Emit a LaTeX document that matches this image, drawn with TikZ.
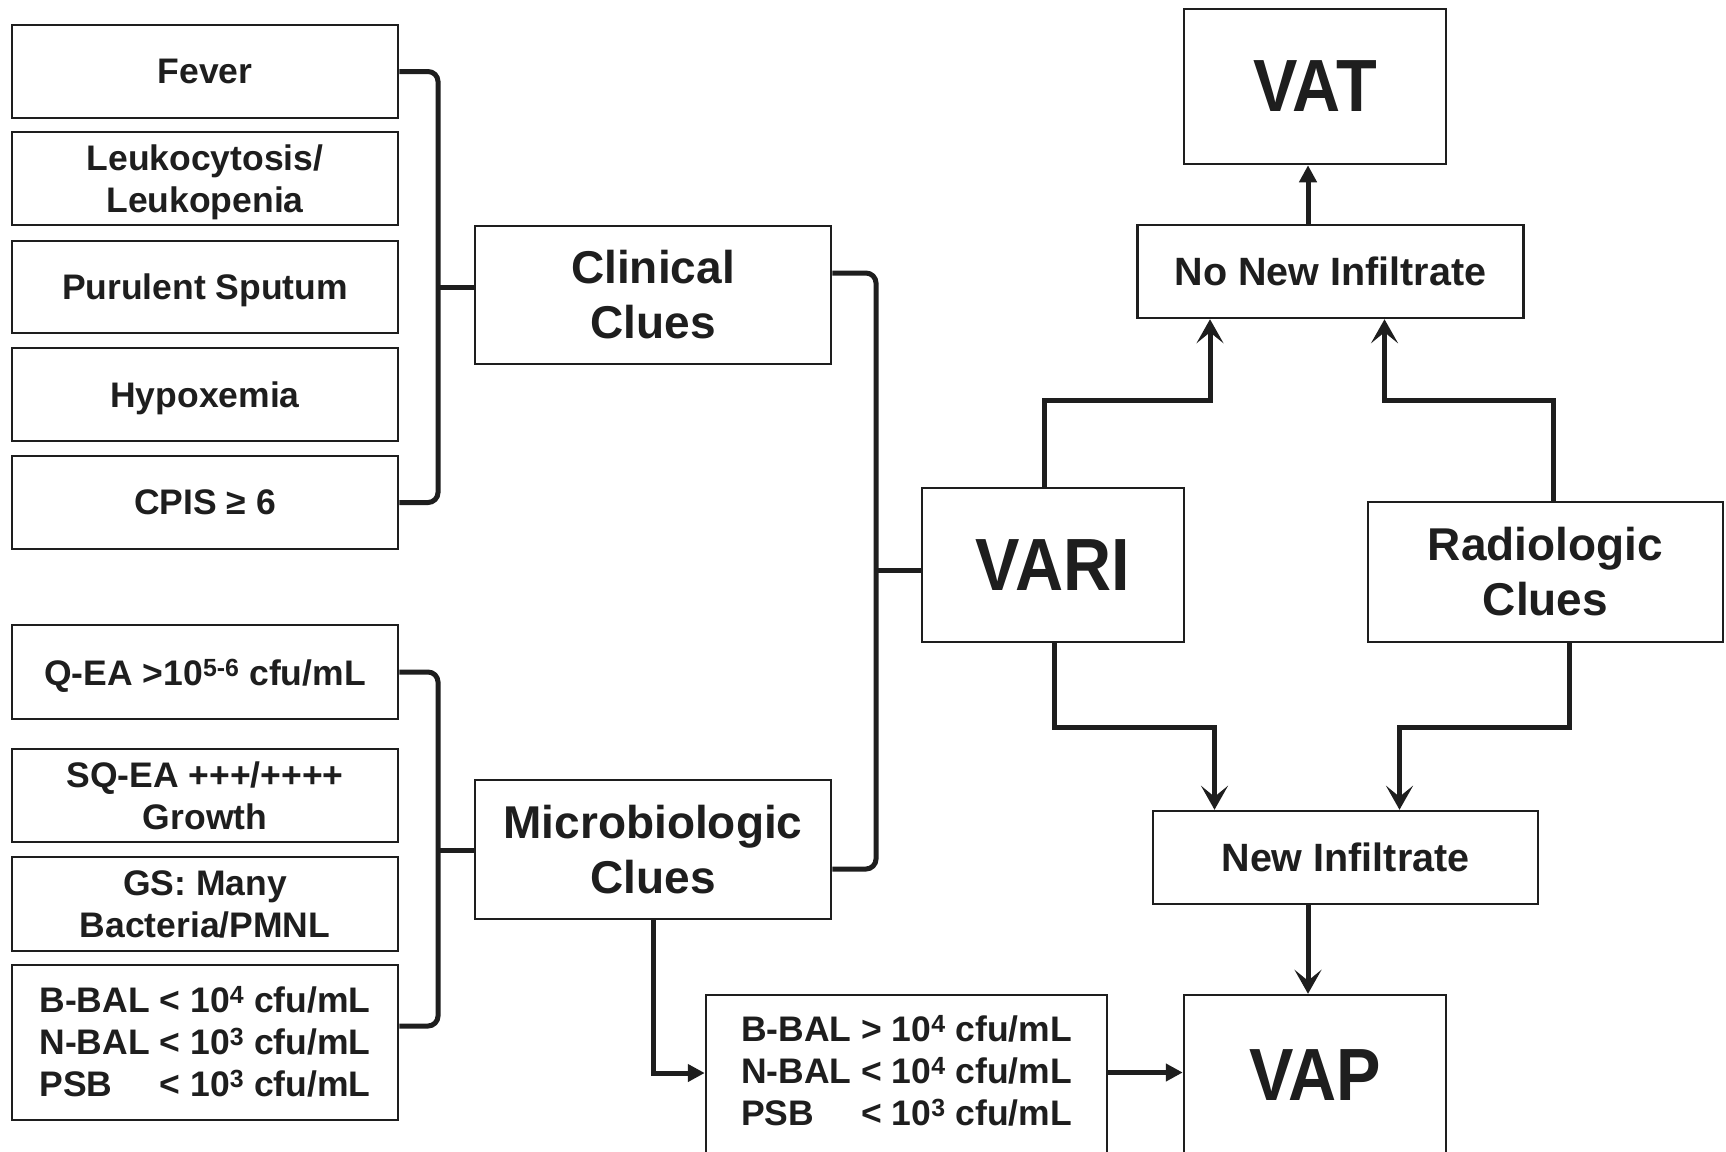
\documentclass[tikz,border=0pt]{standalone}
\usepackage{fontspec}
\setmainfont{Liberation Sans}
\newfontfamily\bigfont{Liberation Sans}[FakeStretch=0.9]
\usetikzlibrary{arrows.meta}
\definecolor{ink}{HTML}{1E1E1E}
\begin{document}
\begin{tikzpicture}[x=1pt,y=-1pt,
  box/.style={draw=ink, line width=2.5pt, inner sep=0pt, align=center, text=ink,
    font=\bfseries\fontsize{35.5}{42}\selectfont},
  small/.style={box, text depth=0pt},
  clue/.style={box, font=\bfseries\fontsize{46}{55}\selectfont},
  bigbox/.style={box, font=\bigfont\bfseries\fontsize{74}{80}\selectfont},
  infbox/.style={box, font=\bfseries\fontsize{39.5}{46}\selectfont},
  conn/.style={draw=ink, line width=5pt},
  varr/.style={conn, -{Stealth[length=24pt,width=27pt,inset=11pt]}},
  tarr/.style={conn, -{Triangle[length=17pt,width=17pt]}},
]
\fill[white] (0,0) rectangle (1726,1151);
\useasboundingbox (0,0) rectangle (1726,1151);

% left column, clinical
\node[small, minimum width=386pt, minimum height=93pt] (fever) at (205,71.5) {Fever};
\node[small, minimum width=386pt, minimum height=93pt] (leuko) at (205,178.5) {Leukocytosis/\\Leukopenia};
\node[small, minimum width=386pt, minimum height=92pt] (purulent) at (205,287) {Purulent Sputum};
\node[small, minimum width=386pt, minimum height=93pt] (hypox) at (205,394.5) {Hypoxemia};
\node[small, minimum width=386pt, minimum height=93pt] (cpis) at (205,502.5) {CPIS ≥ 6};

% left column, microbiologic
\node[small, minimum width=386pt, minimum height=94pt] (qea) at (205,672) {Q-EA >10\textsuperscript{5-6} cfu/mL};
\node[small, minimum width=386pt, minimum height=93pt] (sqea) at (205,795.5) {SQ-EA +++/++++\\Growth};
\node[small, minimum width=386pt, minimum height=94pt] (gs) at (205,904) {GS: Many\\Bacteria/PMNL};
\node[box, minimum width=386pt, minimum height=155pt] (bbal) at (205,1042.5)
  {\raisebox{-4pt}[\height][\depth]{\begin{tabular}{@{}l@{\ }l@{}}
   B-BAL & < 10\textsuperscript{4} cfu/mL\\
   N-BAL & < 10\textsuperscript{3} cfu/mL\\
   PSB & < 10\textsuperscript{3} cfu/mL
   \end{tabular}}};

% clue boxes
\node[clue, minimum width=356pt, minimum height=138pt] (clinical) at (653,295) {Clinical\\Clues};
\node[clue, minimum width=356pt, minimum height=139pt] (micro) at (653,849.5) {Microbiologic\\Clues};
\node[clue, minimum width=355pt, minimum height=140pt] (radio) at (1545.5,572) {Radiologic\\Clues};

% outcome boxes
\node[bigbox, minimum width=262pt, minimum height=154pt] (vari) at (1053,565) {VARI};
\node[bigbox, minimum width=262pt, minimum height=155pt] (vat) at (1315,86.5) {VAT};
\node[bigbox, minimum width=262pt, minimum height=161pt] (vap) at (1315,1075.5) {VAP};
\node[infbox, minimum width=386pt, minimum height=93pt] (nonew) at (1330.5,271.5) {No New Infiltrate};
\node[infbox, minimum width=385pt, minimum height=93pt] (newinf) at (1345.5,857.5) {New Infiltrate};
\node[box, minimum width=401pt, minimum height=161pt] (crit) at (906.5,1075.5)
  {\begin{tabular}{@{}l@{\ }l@{}}
   B-BAL & > 10\textsuperscript{4} cfu/mL\\
   N-BAL & < 10\textsuperscript{4} cfu/mL\\
   PSB & < 10\textsuperscript{3} cfu/mL
   \end{tabular}};

% brackets
\coordinate (ctip) at (438,287);
\coordinate (mtip) at (438,850);
\coordinate (vtip) at (876,570.5);
\draw[conn, rounded corners=10pt] (fever.east) -| (ctip) |- (cpis.east);
\draw[conn] (ctip) -- (clinical.west |- ctip);
\draw[conn, rounded corners=10pt] (qea.east) -| (mtip) |- ([yshift=16.5pt]bbal.east);
\draw[conn] (mtip) -- (micro.west |- mtip);
\draw[conn, rounded corners=10pt] ([yshift=22pt]clinical.east) -| (vtip) |- ([yshift=-19.5pt]micro.east);
\draw[conn] (vtip) -- (vari.west |- vtip);

% arrows
\draw[varr] ([xshift=-8.5pt]vari.north) -- ++(0,-86) -| ([xshift=-120.5pt]nonew.south);
\draw[varr] ([xshift=7.5pt]radio.north) -- ++(0,-100) -| ([xshift=54pt]nonew.south);
\draw[varr] ([xshift=1pt]vari.south) -- ++(0,84) -| ([xshift=-131pt]newinf.north);
\draw[varr] ([xshift=23.5pt]radio.south) -- ++(0,84) -| ([xshift=54pt]newinf.north);
\coordinate (a1) at ([xshift=-22.5pt]nonew.north);
\draw[tarr] (a1) -- (a1 |- vat.south);
\coordinate (a2) at ([xshift=-37.5pt]newinf.south);
\draw[varr] (a2) -- (a2 |- vap.north);
\coordinate (a3) at ([yshift=2.5pt]crit.west);
\draw[tarr] (micro.south) |- (a3);
\draw[tarr] ([yshift=3pt]crit.east) -- ([yshift=3pt]vap.west);
\end{tikzpicture}
\end{document}
